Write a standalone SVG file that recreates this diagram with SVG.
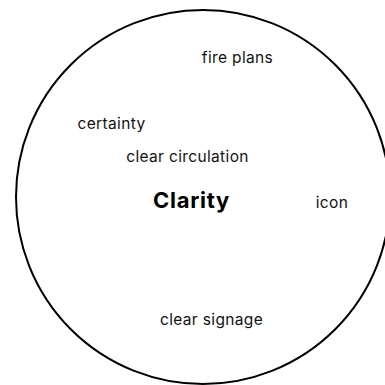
<svg xmlns="http://www.w3.org/2000/svg" width="385" height="385" viewBox="0 0 385 385">
  <style>
    .ring { fill: none; stroke: #000; stroke-width: 2; }
    .term { font-family: Inter, "Liberation Sans", sans-serif; font-size: 15.5px; letter-spacing: 0.35px; fill: #111; text-anchor: middle; }
    .core { font-family: Inter, "Liberation Sans", sans-serif; font-size: 22px; letter-spacing: 0.7px; font-weight: bold; fill: #000; text-anchor: middle; }
  </style>
  <rect width="385" height="385" fill="#fff"/>
  <g id="boundary">
    <circle class="ring" cx="203" cy="197" r="187"/>
  </g>
  <g id="clarity"><text class="core" x="191.5" y="208">Clarity</text></g>
  <g id="fire-plans"><text class="term" x="237.5" y="63">fire plans</text></g>
  <g id="certainty"><text class="term" x="111.5" y="129">certainty</text></g>
  <g id="clear-circulation"><text class="term" x="187.5" y="162">clear circulation</text></g>
  <g id="icon"><text class="term" x="332" y="208">icon</text></g>
  <g id="clear-signage"><text class="term" x="211.5" y="325">clear signage</text></g>
  <g id="connectors"></g>
</svg>
